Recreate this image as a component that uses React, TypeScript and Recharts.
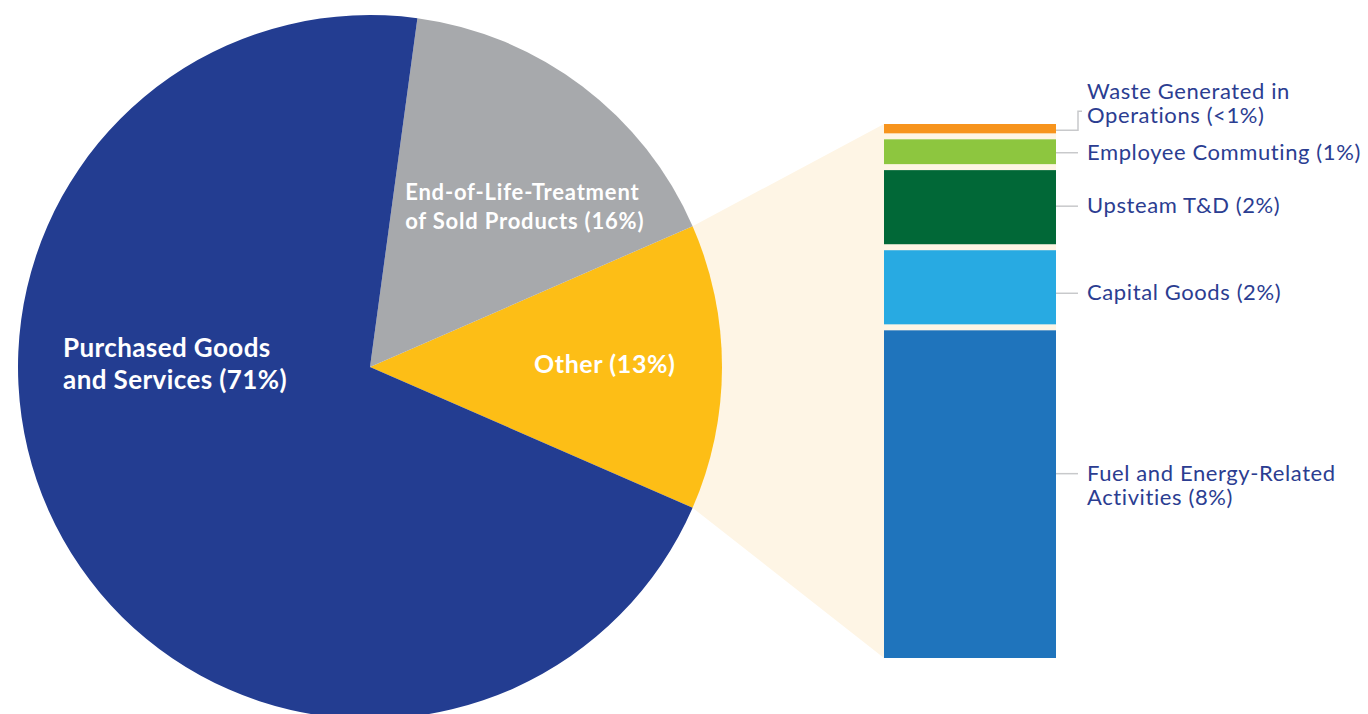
import { Bar, BarChart, Cell, LabelList, Pie, PieChart, XAxis, YAxis } from "recharts"

// main pie
const SLICE_NAMES = ["Other", "End-of-Life-Treatment", "Purchased Goods and Services"]
const SLICE_VALUES = [13.1, 16.3, 70.6]
const SLICE_LABELS = [
  ["Other (13%)"],
  ["End-of-Life-Treatment", "of Sold Products (16%)"],
  ["Purchased Goods", "and Services (71%)"],
]

// breakdown of "Other", bottom to top
const PART_KEYS = ["fuel", "capital", "upstream", "commuting", "waste"]
const PART_VALUES = [8.05, 1.95, 1.95, 0.75, 0.3]
const PART_LABELS = [
  ["Fuel and Energy-Related", "Activities (8%)"],
  ["Capital Goods (2%)"],
  ["Upsteam T&D (2%)"],
  ["Employee Commuting (1%)"],
  ["Waste Generated in", "Operations (<1%)"],
]

const W = 1368
const H = 714
const FONT = "Lato, 'Noto Sans', sans-serif"
const TEXT = "#2B3D91"
const CREAM = "#FEF5E5"
const LEADER = "#C8C9CB"

const SLICE_COLORS = ["#FDBE16", "#A7A9AC", "#233D91"]
const PART_COLORS = ["#1F74BC", "#28AAE2", "#016837", "#8DC63F", "#F7941D"]

const PIE = { cx: 370, cy: 367, r: 352 }
const BAR = { left: 884, width: 172, top: 124, bottom: 658 }
const GAP = 6

// where the white labels sit, relative to the pie centre (in radii)
const SLICE_LABEL_POS = [
  { dx: 0.667, dy: -0.01, anchor: "middle", size: 25, lh: 30, ls: 0.6 },
  { dx: 0.1, dy: -0.46, anchor: "start", size: 22, lh: 29, ls: 0.8 },
  { dx: -0.872, dy: -0.012, anchor: "start", size: 26, lh: 32, ls: 0.4 },
]
// nudges of the leader lines away from each segment's middle
const LEADER_SHIFT = [-19, 6, -1, 1, 0]

const total = SLICE_VALUES.reduce((a, b) => a + b, 0)
const otherSpan = (SLICE_VALUES[0] / total) * 360
const START = -otherSpan / 2

const pieData = SLICE_NAMES.map((name, i) => ({ name, value: SLICE_VALUES[i] }))
const barRow: Record<string, number | string> = { name: "Other" }
PART_KEYS.forEach((k, i) => (barRow[k] = PART_VALUES[i]))
const barTotal = PART_VALUES.reduce((a, b) => a + b, 0)

function renderSliceLabel(props: any) {
  const { cx, cy, outerRadius, index } = props
  const pos = SLICE_LABEL_POS[index]
  const lines = SLICE_LABELS[index]
  const x = cx + pos.dx * outerRadius
  const y0 = cy + pos.dy * outerRadius - ((lines.length - 1) * pos.lh) / 2
  return (
    <text
      x={x}
      y={y0}
      fill="#fff"
      fontFamily={FONT}
      fontWeight={700}
      fontSize={pos.size}
      letterSpacing={pos.ls}
      textAnchor={pos.anchor}
      dominantBaseline="central"
    >
      {lines.map((l, j) => (
        <tspan key={j} x={x} y={y0 + j * pos.lh}>
          {l}
        </tspan>
      ))}
    </text>
  )
}

function GapRect(props: any) {
  const { x, y, width, height, fill, first, last } = props
  const top = last ? 0 : GAP / 2
  const bottom = first ? 0 : GAP / 2
  return <rect x={x} y={y + top} width={width} height={Math.max(0, height - top - bottom)} fill={fill} />
}

function partLabel(i: number) {
  return (props: any) => {
    const { x, y, width, height } = props
    const right = x + width
    const ly = y + height / 2 + LEADER_SHIFT[i]
    const lines = PART_LABELS[i]
    const isWaste = i === PART_KEYS.length - 1
    const tx = right + 31
    const elbowX = right + 22
    const textY = (isWaste ? ly - 38 : ly) - 2
    return (
      <g>
        {isWaste ? (
          <polyline
            points={`${right},${ly} ${elbowX},${ly} ${elbowX},${ly - 19} ${elbowX + 4},${ly - 19}`}
            fill="none"
            stroke={LEADER}
            strokeWidth={1.5}
          />
        ) : (
          <line x1={right} y1={ly} x2={elbowX} y2={ly} stroke={LEADER} strokeWidth={1.5} />
        )}
        <text
          x={tx}
          y={textY}
          fill={TEXT}
          fontFamily={FONT}
          fontSize={22}
          letterSpacing={0.6}
          dominantBaseline="central"
        >
          {lines.map((l, j) => (
            <tspan key={j} x={tx} y={textY + j * 24}>
              {l}
            </tspan>
          ))}
        </text>
      </g>
    )
  }
}

function Connector() {
  const rad = (a: number) => (a * Math.PI) / 180
  const p1 = [PIE.cx + PIE.r * Math.cos(rad(START + otherSpan)), PIE.cy - PIE.r * Math.sin(rad(START + otherSpan))]
  const p2 = [PIE.cx + PIE.r * Math.cos(rad(START)), PIE.cy - PIE.r * Math.sin(rad(START))]
  const pts = [
    [PIE.cx, PIE.cy],
    p1,
    [BAR.left, BAR.top],
    [BAR.left + BAR.width, BAR.top],
    [BAR.left + BAR.width, BAR.bottom],
    [BAR.left, BAR.bottom],
    p2,
  ]
  return (
    <svg width={W} height={H} style={{ position: "absolute", left: 0, top: 0 }}>
      <polygon points={pts.map((p) => p.join(",")).join(" ")} fill={CREAM} />
    </svg>
  )
}

export default function App() {
  return (
    <div style={{ position: "absolute", left: 0, top: 0, width: W, height: H, overflow: "hidden", background: "#fff" }}>
      <Connector />
      <div style={{ position: "absolute", left: 0, top: 0 }}>
        <PieChart width={760} height={H} margin={{ top: 0, right: 0, bottom: 0, left: 0 }}>
          <Pie
            data={pieData}
            dataKey="value"
            nameKey="name"
            cx={PIE.cx}
            cy={PIE.cy}
            outerRadius={PIE.r}
            startAngle={START}
            endAngle={START + 360}
            stroke="none"
            label={renderSliceLabel}
            labelLine={false}
            isAnimationActive={false}
          >
            {pieData.map((d, i) => (
              <Cell key={d.name} fill={SLICE_COLORS[i]} />
            ))}
          </Pie>
        </PieChart>
      </div>
      <div style={{ position: "absolute", left: BAR.left, top: 0 }}>
        <BarChart
          width={W - BAR.left}
          height={H}
          data={[barRow]}
          margin={{ top: BAR.top, bottom: H - BAR.bottom, left: 0, right: W - BAR.left - BAR.width }}
          barCategoryGap={0}
        >
          <XAxis dataKey="name" hide />
          <YAxis hide domain={[0, barTotal]} />
          {PART_KEYS.map((k, i) => (
            <Bar
              key={k}
              dataKey={k}
              stackId="other"
              fill={PART_COLORS[i]}
              isAnimationActive={false}
              shape={(p: any) => <GapRect {...p} first={i === 0} last={i === PART_KEYS.length - 1} />}
            >
              <LabelList dataKey={k} content={partLabel(i)} />
            </Bar>
          ))}
        </BarChart>
      </div>
    </div>
  )
}
